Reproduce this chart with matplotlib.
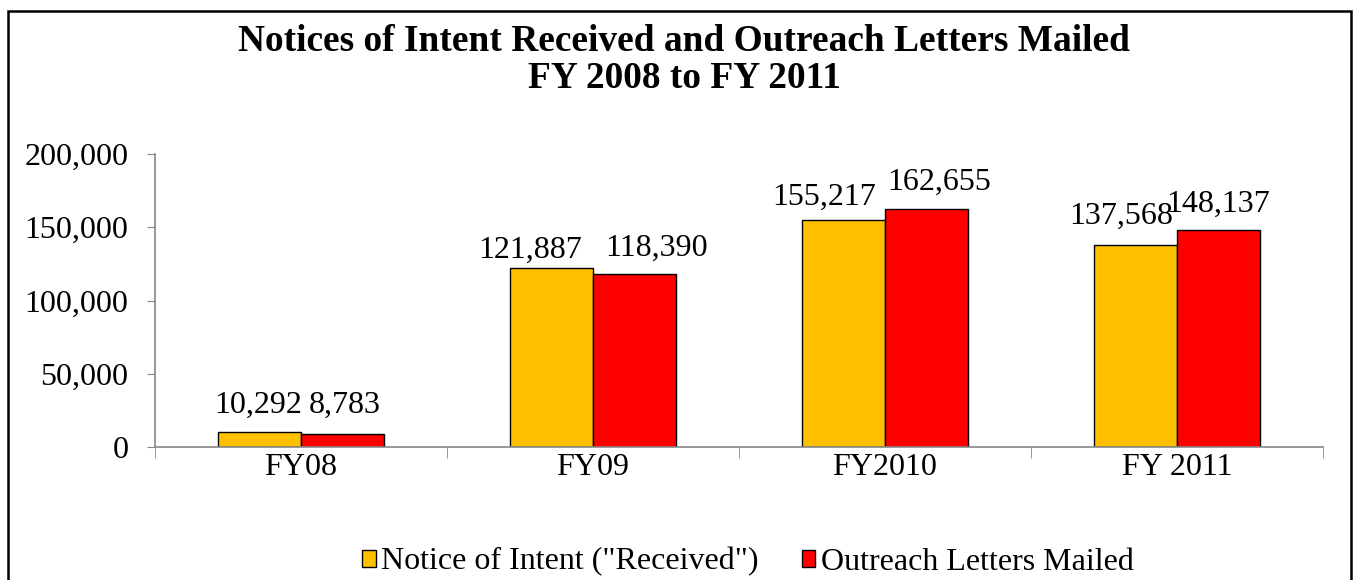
import numpy as np
import matplotlib
matplotlib.use("Agg")
import matplotlib.pyplot as plt
from matplotlib.patches import Rectangle

categories = ["FY08", "FY09", "FY2010", "FY 2011"]
received = [10292, 121887, 155217, 137568]
mailed = [8783, 118390, 162655, 148137]
series_names = ['Notice of Intent ("Received")', "Outreach Letters Mailed"]
YELLOW, RED = "#FFC000", "#FF0000"

# label nudges (px, from bar-top centre to text baseline centre), as Excel spread them apart
nudge_received = [(-1, 19), (-21, 11), (-19, 15), (-14, 22)]
nudge_mailed = [(2, 21), (22, 18), (13, 19), (0, 18)]

plt.rcParams.update({"font.family": "Liberation Serif"})
fig = plt.figure(figsize=(13.56, 5.8), dpi=100)
W, H = 1356, 580
PX = 72 / 100  # points per pixel
# axes box in pixel coords: x 155..1323, y 154..447
ax = fig.add_axes([155 / W, 1 - 447 / H, (1323 - 155) / W, (447 - 154) / H])

FS = 23
x = np.arange(len(categories))
bw = 0.285
b1 = ax.bar(x - bw / 2, received, bw, color=YELLOW, edgecolor="black", linewidth=1)
b2 = ax.bar(x + bw / 2, mailed, bw, color=RED, edgecolor="black", linewidth=1)
for bars, vals, nudges in ((b1, received, nudge_received), (b2, mailed, nudge_mailed)):
    for r, v, (dx, dy) in zip(bars, vals, nudges):
        ax.annotate(f"{v:,}", (r.get_x() + r.get_width() / 2, v), xytext=(dx * PX, dy * PX),
                    textcoords="offset points", ha="center", va="baseline", fontsize=FS)

ax.set_xlim(-0.5, len(categories) - 0.5)
ax.set_ylim(0, 200000)
ax.set_yticks(np.arange(0, 200001, 50000))
ax.set_yticklabels([f"{v:,}" for v in range(0, 200001, 50000)], fontsize=FS)
ax.set_xticks(x)
ax.set_xticklabels(categories, fontsize=FS)
ax.tick_params(axis="x", length=0, pad=4)
ax.set_xticks(np.arange(-0.5, len(categories)), minor=True)
ax.tick_params(axis="x", which="minor", length=8, color="#888888", direction="out")
ax.tick_params(axis="y", length=6, color="#888888", direction="out", pad=13)
for s in ("top", "right"):
    ax.spines[s].set_visible(False)
for s in ("left", "bottom"):
    ax.spines[s].set_color("#888888")
    ax.spines[s].set_linewidth(1.2)

fig.text(684 / W, 1 - 60 / H, "Notices of Intent Received and Outreach Letters Mailed\nFY 2008 to FY 2011",
         ha="center", va="center", fontsize=26.9, fontweight="bold", linespacing=1.05)

fig.legend([b1, b2], series_names, loc="center", bbox_to_anchor=(748 / W, 1 - 562 / H), ncol=2,
           frameon=False, fontsize=FS, handlelength=0.42, handleheight=0.42, handletextpad=0.18,
           columnspacing=1.35, borderpad=0)

fig.patches.append(Rectangle((8 / W, -0.05), (1351 - 8) / W, 1.05 - 11 / H,
                             transform=fig.transFigure, fill=False, edgecolor="black", linewidth=1.8))

fig.savefig("out.png", dpi=100, facecolor="white")
